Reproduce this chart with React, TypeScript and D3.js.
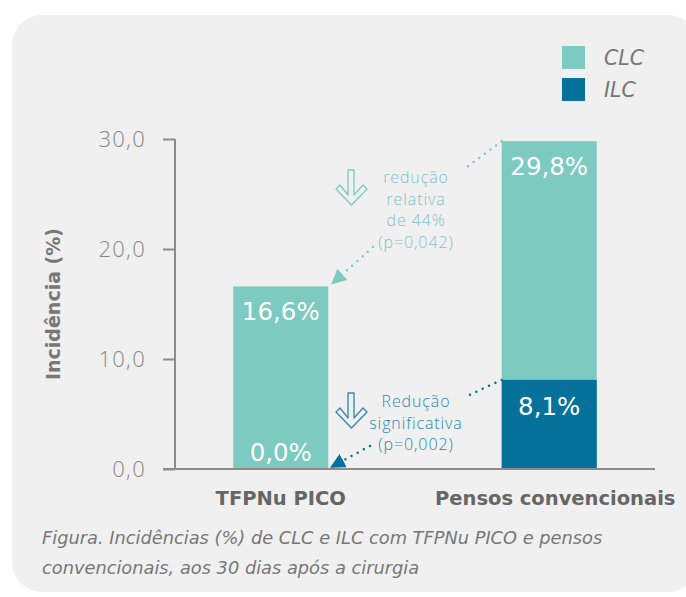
import { useEffect, useRef } from "react";
import * as d3 from "d3";

const categories = ["TFPNu PICO", "Pensos convencionais"];
const clcValues = [16.6, 29.8];
const ilcValues = [0.0, 8.1];
const yTicks = [0, 10, 20, 30];
const seriesNames = ["CLC", "ILC"];
const noteRelative = ["redução", "relativa", "de 44%", "(p=0,042)"];
const noteSignificant = ["Redução", "significativa", "(p=0,002)"];
const captionLines = [
  "Figura. Incidências (%) de CLC e ILC com TFPNu PICO e pensos",
  "convencionais, aos 30 dias após a cirurgia",
];

const CLC_COLOR = "#7ccac0";
const ILC_COLOR = "#06729c";
const FONT = "'DejaVu Sans', 'Open Sans', sans-serif";
const LIGHT = "'Open Sans', 'DejaVu Sans', sans-serif";

const fmt = (v: number) => v.toFixed(1).replace(".", ",");

function DownIcon({ x, y, color }: { x: number; y: number; color: string }) {
  // outlined down arrow glyph
  const pts = [
    [12, 0], [18, 0], [18, 25], [27, 15], [31, 19], [15.5, 35],
    [0, 19], [4, 15], [12, 25],
  ];
  return (
    <polygon
      transform={`translate(${x},${y})`}
      points={pts.map((p) => p.join(",")).join(" ")}
      fill="none"
      stroke={color}
      strokeWidth={1.3}
      strokeLinejoin="round"
    />
  );
}

export default function App() {
  const width = 686;
  const height = 597;
  const marginLeft = 175;
  const axisRight = 655;
  const y0 = 469;
  const y1 = 139;

  const x = d3
    .scaleBand<string>()
    .domain(categories)
    .range([marginLeft, axisRight])
    .paddingInner(0.646)
    .paddingOuter(0.217);
  const y = d3.scaleLinear().domain([0, 30]).range([y0, y1]);
  const color = d3.scaleOrdinal<string, string>().domain(seriesNames).range([CLC_COLOR, ILC_COLOR]);

  const yAxis = useRef<SVGGElement>(null);
  useEffect(() => {
    const g = d3.select(yAxis.current);
    g.call(
      d3.axisLeft(y).tickValues(yTicks).tickSize(12).tickPadding(17).tickFormat((d) => fmt(+d))
    );
    g.select(".domain").attr("stroke", "#8c8c8c").attr("stroke-width", 2).attr("d", `M0,${y(30)}V${y(0)}`);
    g.selectAll(".tick line").attr("stroke", "#8c8c8c").attr("stroke-width", 2);
    g.selectAll(".tick text")
      .attr("fill", "#888")
      .attr("font-size", 22)
      .attr("font-weight", 300)
      .attr("letter-spacing", 1.3)
      .attr("font-family", LIGHT);
  }, []);

  const bw = x.bandwidth();
  const xa = x(categories[0])!;
  const xb = x(categories[1])!;

  return (
    <svg width={width} height={height} style={{ position: "absolute", left: 0, top: 0, background: "#fff" }} fontFamily={FONT}>
      <defs>
        <marker id="headA" viewBox="0 0 10 10" refX="9" refY="5" markerWidth="6" markerHeight="6" orient="auto" markerUnits="strokeWidth">
          <path d="M0,0L10,5L0,10Z" fill={CLC_COLOR} />
        </marker>
        <marker id="headB" viewBox="0 0 10 10" refX="9" refY="5" markerWidth="6" markerHeight="6" orient="auto" markerUnits="strokeWidth">
          <path d="M0,0L10,5L0,10Z" fill={ILC_COLOR} />
        </marker>
      </defs>
      <rect x={12} y={15} width={686} height={577} rx={30} fill="#f0f0f0" />

      {/* legend */}
      {seriesNames.map((s, i) => (
        <g key={s} transform={`translate(562,${46 + i * 32})`}>
          <rect width={23} height={23} fill={color(s)} />
          <text x={42} y={12} dy="0.35em" fontSize={20.5} fontStyle="italic" fill="#777">
            {s}
          </text>
        </g>
      ))}

      {/* bars */}
      {categories.map((c, i) => (
        <g key={c}>
          <rect x={x(c)} y={y(clcValues[i])} width={bw} height={y(0) - y(clcValues[i])} fill={CLC_COLOR} />
          <rect x={x(c)} y={y(ilcValues[i])} width={bw} height={y(0) - y(ilcValues[i])} fill={ILC_COLOR} />
          <text x={x(c)! + bw / 2} y={y(clcValues[i]) + 34} textAnchor="middle" fontSize={24.5} fill="#fff">
            {fmt(clcValues[i])}%
          </text>
          <text
            x={x(c)! + bw / 2}
            y={ilcValues[i] > 0 ? y(ilcValues[i]) + 35 : y(0) - 8}
            textAnchor="middle"
            fontSize={24.5}
            fill="#fff"
          >
            {fmt(ilcValues[i])}%
          </text>
          <text x={x(c)! + bw / 2 + (i === 1 ? 6 : 0)} y={505} textAnchor="middle" fontSize={19.5} fontWeight={700} fill="#666">
            {c}
          </text>
        </g>
      ))}

      {/* axes */}
      <g ref={yAxis} transform={`translate(${marginLeft},0)`} />
      <line x1={163} x2={axisRight} y1={y0} y2={y0} stroke="#8c8c8c" strokeWidth={2} />
      <text transform={`translate(60,${y(15)}) rotate(-90)`} textAnchor="middle" fontSize={19} fontWeight={700} fill="#777">
        Incidência (%)
      </text>

      {/* annotation: relative reduction */}
      <line x1={xb} y1={y(clcValues[1])} x2={467} y2={167} stroke={CLC_COLOR} strokeWidth={2.5} strokeDasharray="0 7" strokeLinecap="round" />
      <line x1={373} y1={247} x2={xa + bw + 4} y2={y(clcValues[0]) - 3} stroke={CLC_COLOR} strokeWidth={2.5} strokeDasharray="0 7" strokeLinecap="round" markerEnd="url(#headA)" />
      <DownIcon x={336} y={170} color={CLC_COLOR} />
      {noteRelative.map((t, i) => (
        <text key={t} x={416} y={183 + i * 21.5} textAnchor="middle" fontFamily={LIGHT} fontSize={16} fontWeight={300} letterSpacing={0.9} fill="#84bfc9">
          {t}
        </text>
      ))}

      {/* annotation: significant reduction */}
      <line x1={xb} y1={y(ilcValues[1])} x2={467} y2={396} stroke={ILC_COLOR} strokeWidth={2.5} strokeDasharray="0 7" strokeLinecap="round" />
      <line x1={370} y1={446} x2={xa + bw + 3} y2={y(0) - 2} stroke={ILC_COLOR} strokeWidth={2.5} strokeDasharray="0 7" strokeLinecap="round" markerEnd="url(#headB)" />
      <DownIcon x={336} y={393} color="#2f86b0" />
      {noteSignificant.map((t, i) => (
        <text key={t} x={416} y={407 + i * 21.5} textAnchor="middle" fontFamily={LIGHT} fontSize={16} fontWeight={300} letterSpacing={0.9} fill="#2f86b0">
          {t}
        </text>
      ))}

      {/* caption */}
      {captionLines.map((t, i) => (
        <text key={i} x={42} y={544 + i * 30} fontSize={17.8} fontStyle="italic" fill="#777">
          {t}
        </text>
      ))}
    </svg>
  );
}
